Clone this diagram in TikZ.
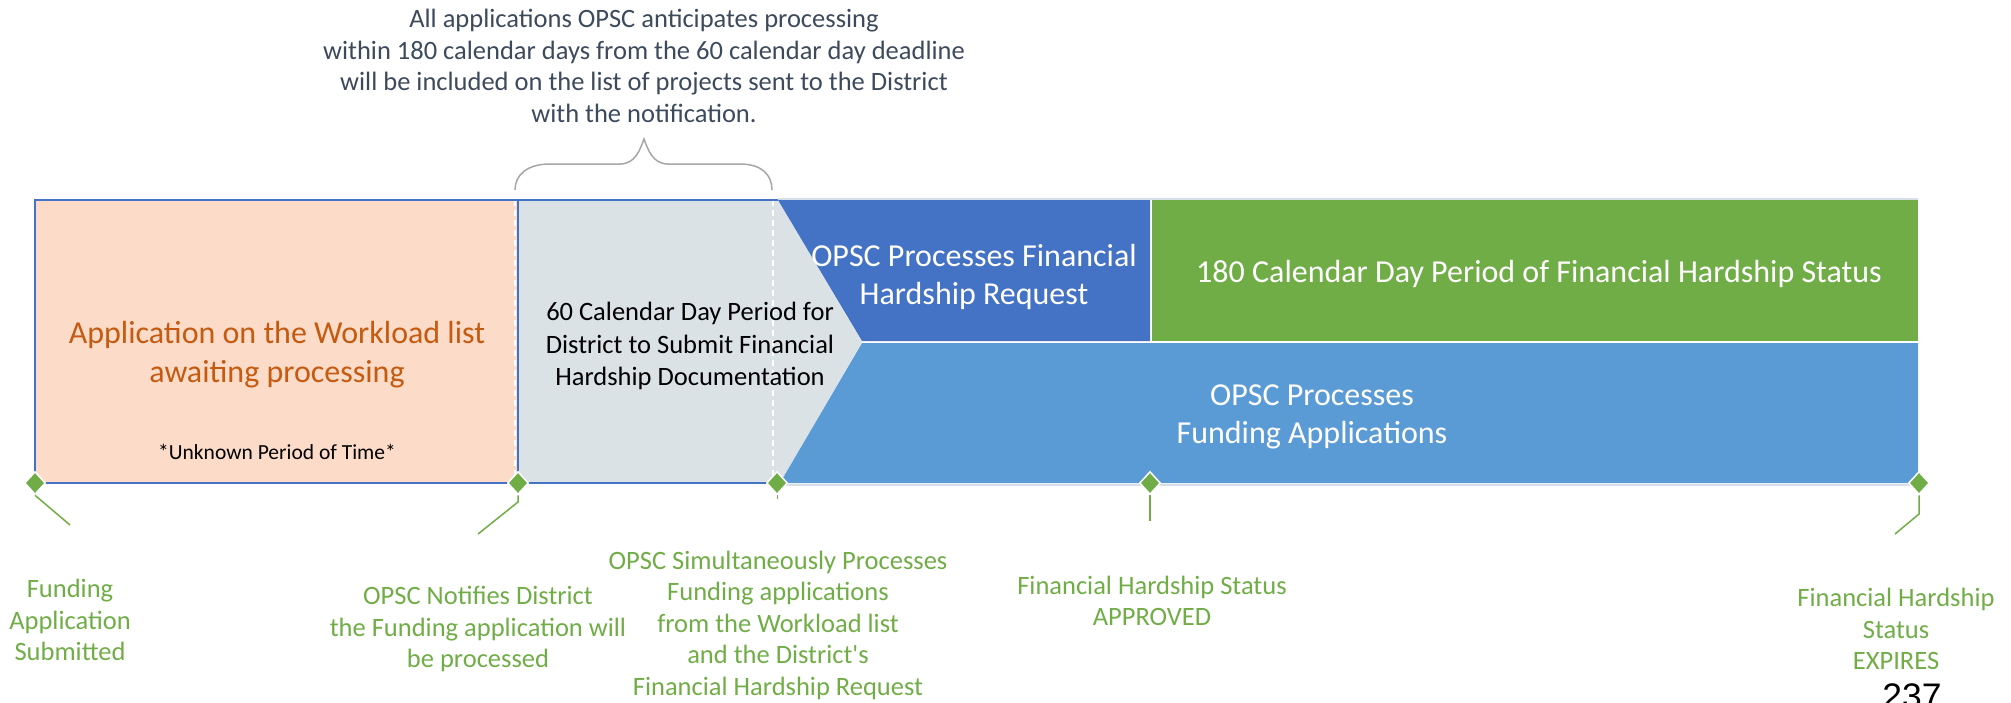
\documentclass[tikz,border=0pt]{standalone}
\usepackage{fontspec}
\setmainfont{Carlito}
\newfontfamily\arialf{Liberation Sans}
\usetikzlibrary{shapes.geometric}
\definecolor{peach}{HTML}{FCDCC8}
\definecolor{orangetxt}{HTML}{C55A11}
\definecolor{graybox}{HTML}{DBE2E6}
\definecolor{darkblue}{HTML}{4472C4}
\definecolor{lightblue}{HTML}{5B9BD5}
\definecolor{fhgreen}{HTML}{70AD47}
\definecolor{slate}{HTML}{3C4A5C}
\definecolor{bracegray}{HTML}{A6A6A6}
\definecolor{paleline}{HTML}{D6DEEA}
\begin{document}
\begin{tikzpicture}[x=1pt,y=-1pt,
  txt/.style={align=center, inner sep=0pt},
  boxtxt/.style={txt, text=white, font=\fontsize{32}{38.5}\selectfont},
  lbl/.style={txt, text=fhgreen, font=\fontsize{26.5}{31.5}\selectfont},
  mile/.style={diamond, fill=fhgreen, draw=white, line width=1.5pt, inner sep=0pt, minimum width=21pt, minimum height=23pt},
  leader/.style={draw=fhgreen, line width=1.5pt},
  divider/.style={draw=white, line width=1.5pt, dash pattern=on 6pt off 4pt}]
\useasboundingbox (0,0) rectangle (2011,702);
% bands
\fill[peach] (35,200) rectangle (518,483);
\fill[graybox] (518,200) -- (778,200) -- (862,342) -- (780,483) -- (518,483) -- cycle;
\fill[darkblue] (778,200) -- (1150,200) -- (1150,341) -- (862,341) -- cycle;
\fill[fhgreen] (1152,200) rectangle (1918,341);
\fill[lightblue] (862,343) -- (1918,343) -- (1918,483) -- (780,483) -- cycle;
% outlines
\draw[paleline, line width=2pt] (778,198.5) -- (1918,198.5);
\draw[paleline, line width=1.5pt] (780,485) -- (1918,485);
\draw[divider] (515,200) -- (515,483);
\draw[divider] (773,200) -- (773,483);
\draw[darkblue, line width=2pt] (778,200) -- (35,200) -- (35,483) -- (780,483);
\draw[darkblue, line width=2pt] (518,200) -- (518,483);
% brace
\draw[bracegray, line width=1.5pt] (515,190) .. controls (515,175) and (527,164) .. (550,164) -- (620,164) .. controls (635,164) and (640,150) .. (644,139) .. controls (648,150) and (653,164) .. (668,164) -- (740,164) .. controls (762,164) and (772,175) .. (772,190);
% texts
\node[txt, text=slate, font=\fontsize{26.5}{31.5}\selectfont] (note) at (644,66) {All applications OPSC anticipates processing\\within 180 calendar days from the 60 calendar day deadline\\will be included on the list of projects sent to the District\\with the notification.};
\node[txt, text=orangetxt, font=\fontsize{32}{39}\selectfont] (work) at (277,355) {Application on the Workload list\\awaiting processing};
\node[txt, text=black, font=\fontsize{21.5}{26}\selectfont] (unk) at (277,452) {*Unknown Period of Time*};
\node[txt, text=black, font=\fontsize{26.5}{32.5}\selectfont] (sixty) at (690,346) {60 Calendar Day Period for\\District to Submit Financial\\Hardship Documentation};
\node[boxtxt] (fhr) at (974,277) {OPSC Processes Financial\\Hardship Request};
\node[boxtxt] (status) at (1539,274) {180 Calendar Day Period of Financial Hardship Status};
\node[boxtxt] (fund) at (1312,417) {OPSC Processes\\Funding Applications};
% milestones
\node[mile] (d1) at (35,483) {};
\node[mile] (d2) at (518,483) {};
\node[mile] (d3) at (777,483) {};
\node[mile] (d4) at (1150,483) {};
\node[mile] (d5) at (1919,483) {};
\coordinate (c1) at (70,525);
\coordinate (k2) at (518,502);
\coordinate (c2) at (478,534);
\coordinate (c3) at (777,499);
\coordinate (c4) at (1150,521);
\coordinate (k5) at (1919,514);
\coordinate (c5) at (1895,534);
\draw[leader] (d1.south) -- (c1);
\draw[leader] (d2.south) -- (k2) -- (c2);
\draw[leader, line width=1pt] (d3.south) -- (c3);
\draw[leader] (d4.south) -- (c4);
\draw[leader] (d5.south) -- (k5) -- (c5);
% labels
\node[lbl] (l1) at (70,620) {Funding\\Application\\Submitted};
\node[lbl] (l2) at (478,629) {OPSC Notifies District\\the Funding application will\\be processed};
\node[lbl] (l3) at (778,625) {OPSC Simultaneously Processes\\Funding applications\\from the Workload list\\and the District\textquotesingle s\\Financial Hardship Request};
\node[lbl] (l4) at (1152,601) {Financial Hardship Status\\APPROVED};
\node[lbl] (l5) at (1896,629) {Financial Hardship\\Status\\EXPIRES};
\node[anchor=base, inner sep=0pt, font=\arialf\fontsize{35.5}{40}\selectfont] (pg) at (1912,708) {237};
\end{tikzpicture}
\end{document}
